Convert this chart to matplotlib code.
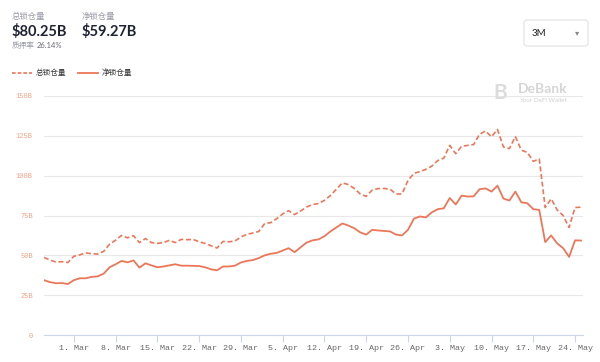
import numpy as np
import pandas as pd
import matplotlib
matplotlib.use("Agg")
import matplotlib.pyplot as plt
import matplotlib.dates as mdates
from matplotlib.patches import FancyBboxPatch

plt.rcParams['font.family'] = ['Noto Sans CJK SC', 'DejaVu Sans']

dates = pd.date_range("2021-02-24", "2021-05-25", freq="D")

# total locked value (dashed), $B
total = [48.7, 47, 45.8, 46, 45.5,
         49.4, 50.3, 51.5, 51, 50.8, 52.5, 57, 59.5, 62.5, 61, 62.3, 58, 60.5, 58,
         57.5, 58, 59.4, 58, 60, 59.8, 60, 58.5, 57.5, 56, 54.6, 58.7, 58.5, 59,
         61.5, 63.2, 64,
         65, 70, 70.5, 73, 76, 78, 75.6, 77.8, 80.3, 81.9, 82.5, 84.5, 87.5, 91.5,
         95.5, 94.4, 92, 88.5, 87, 91, 91.9, 92, 91.5, 88.5, 88.5, 97, 101.5, 102.5,
         104, 106,
         109.5, 111, 119, 113.8, 118.5, 119, 119.5, 126, 128, 124.4, 129, 118, 117,
         124.5, 116, 114.6, 109, 110.5, 80, 85.5, 78.5, 75, 67.5, 80, 80.25]

# net locked value (solid), $B
net = [34.4, 33.2, 32.5, 32.6, 32,
       34.4, 35.6, 35.6, 36.5, 36.8, 38.5, 42.5, 44.4, 46.5, 45.6, 46.8, 42.3, 45, 43.7,
       42.5, 43, 43.7, 44.4, 43.5, 43.5, 43.4, 43.3, 42.5, 41.2, 40.6, 43, 43, 43.5,
       45.5, 46.5, 47,
       48.3, 50, 51, 51.5, 53, 54.5, 52, 55, 58, 59.4, 60, 62, 65, 67.5,
       70, 68.7, 67, 64.4, 63, 66, 65.6, 65.3, 65, 63, 62.5, 66, 73, 74.4,
       73.8, 77,
       79, 79.5, 86, 81.9, 87.5, 86.9, 87, 91.5, 92, 90, 93.7, 85.6, 84.4,
       90, 83.3, 82.7, 79, 78.5, 58.3, 62.5, 57.5, 54.5, 49, 59.4, 59.27]

y_ticks = [0, 25, 50, 75, 100, 125, 150]
y_labels = ["0", "25B", "50B", "75B", "100B", "125B", "150B"]

line_color = "#EC7758"

fig = plt.figure(figsize=(6, 3.62), dpi=100)
ax = fig.add_axes([44/600, 27/362, 539/600, 239/362])

ax.plot(dates, total, color=line_color, lw=1.2, ls=(0, (3, 1.6)))
ax.plot(dates, net, color=line_color, lw=1.3)

ax.set_ylim(0, 150)
ax.set_xlim(dates[0], dates[-1] + pd.Timedelta(hours=8))
ax.set_yticks(y_ticks)
ax.set_yticklabels(y_labels)
ax.grid(axis="y", color="#e8e8e8", lw=0.8)
ax.set_axisbelow(True)

ax.xaxis.set_major_locator(mdates.WeekdayLocator(byweekday=mdates.MO))
ax.xaxis.set_major_formatter(mdates.DateFormatter("%-d. %b"))

for s in ["top", "right", "left"]:
    ax.spines[s].set_visible(False)
ax.spines["bottom"].set_color("#ccd6eb")
ax.spines["bottom"].set_linewidth(0.8)

ax.tick_params(axis="y", length=0, pad=8, labelsize=5, labelcolor="#F0A488")
ax.tick_params(axis="x", length=5, width=0.8, color="#ccd6eb", pad=2,
               labelsize=6, labelcolor="#666666")
for lab in ax.get_xticklabels():
    lab.set_family("Liberation Mono")
for lab in ax.get_yticklabels():
    lab.set_family("Liberation Mono")

# header
fig.text(12/600, 1 - 17/362, "总锁仓量", fontsize=6, color="#9a9aa8", va="center")
fig.text(12/600, 1 - 31/362, "$80.25B", fontsize=10.5, weight="bold", color="#1e2333", va="center", family="Lato")
fig.text(82/600, 1 - 17/362, "净锁仓量", fontsize=6, color="#9a9aa8", va="center")
fig.text(82/600, 1 - 31/362, "$59.27B", fontsize=10.5, weight="bold", color="#1e2333", va="center", family="Lato")
fig.text(12/600, 1 - 46/362, "质押率", fontsize=5.5, color="#9a9aa8", va="center")
fig.text(37/600, 1 - 46/362, "26.14%", fontsize=5.5, color="#6b6b78", va="center", family="Lato")

# legend
fig.lines.append(plt.Line2D([12/600, 32/600], [1 - 73/362] * 2, transform=fig.transFigure,
                            color=line_color, lw=1.2, ls=(0, (2.2, 1.2))))
fig.text(36/600, 1 - 73/362, "总锁仓量", fontsize=5.5, color="#333333", va="center")
fig.lines.append(plt.Line2D([78/600, 98/600], [1 - 73/362] * 2, transform=fig.transFigure,
                            color=line_color, lw=1.3))
fig.text(102/600, 1 - 73/362, "净锁仓量", fontsize=5.5, color="#333333", va="center")

# range selector
box = FancyBboxPatch((524/600, 1 - 46/362), 64/600, 26/362, transform=fig.transFigure,
                     boxstyle="round,pad=0,rounding_size=0.006", fc="white",
                     ec="#e2e2e2", lw=0.8)
fig.patches.append(box)
fig.text(532/600, 1 - 33/362, "3M", fontsize=7, color="#222222", va="center", family="Lato")
fig.text(577/600, 1 - 33/362, "▾", fontsize=6, color="#888888", va="center", ha="center", family="DejaVu Sans")

# watermark
fig.text(500/600, 1 - 93/362, "B", fontsize=15, weight="bold", color="#dcdcdc",
         va="center", ha="center", family="Lato")
fig.text(518/600, 1 - 89/362, "DeBank", fontsize=10, weight="bold", color="#d6d6d6",
         va="center", family="Lato")
fig.text(519/600, 1 - 100/362, "Your DeFi Wallet", fontsize=4.5, color="#d0d0d0",
         va="center", family="Lato")

fig.savefig("out.png", dpi=100)
